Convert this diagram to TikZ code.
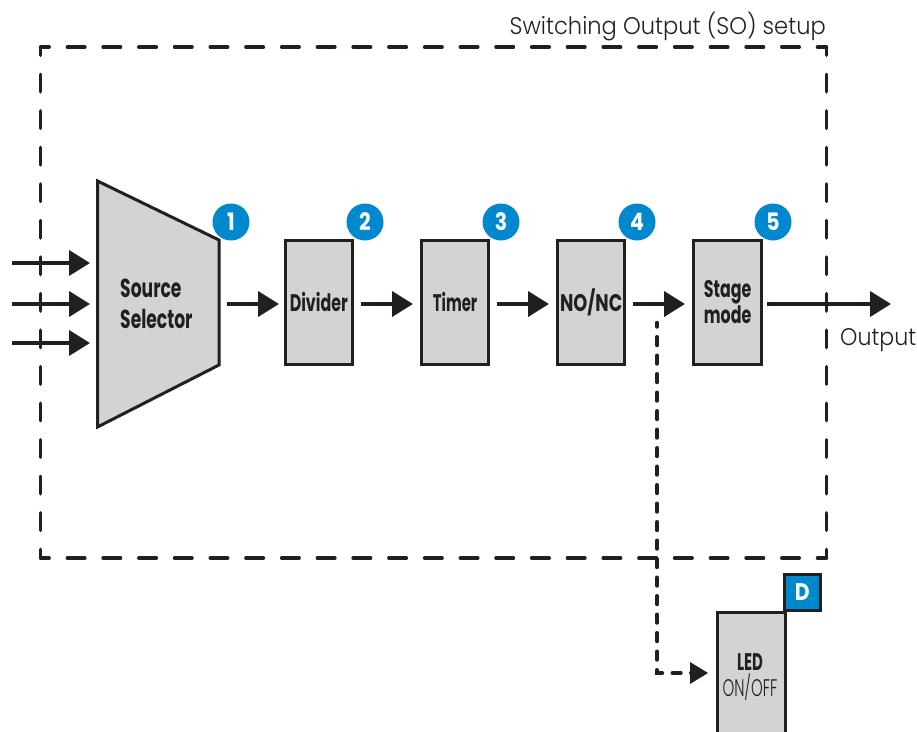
\documentclass[tikz,border=0pt]{standalone}
\usepackage{fontspec}
\setmainfont{Poppins}
\newfontfamily\lightfont{Poppins Light}
\usepackage{graphicx}
\usetikzlibrary{arrows.meta,calc}
\definecolor{ink}{HTML}{231F20}
\definecolor{boxgray}{HTML}{D2D4D2}
\definecolor{badgeblue}{HTML}{0088CE}
\newcommand{\cond}[2][0.66]{\scalebox{#1}[1]{\bfseries #2}}
\newcommand{\condr}[1]{\scalebox{0.62}[1]{\lightfont #1}}
\newcommand{\digit}[1]{\scalebox{0.85}[1]{#1}}
\tikzset{
  x=1pt,y=-1pt,
  block/.style={draw=ink,fill=boxgray,line width=3pt,minimum width=67.5pt,minimum height=124pt,inner sep=0pt,align=center,font=\fontsize{24}{26}\selectfont,text=ink},
  badge/.style={circle,fill=badgeblue,text=white,minimum size=37pt,inner sep=0pt,font=\bfseries\fontsize{24}{24}\selectfont},
  flow/.style={draw=ink,line width=4pt,-{Triangle[length=21pt,width=25pt]}},
  hdash/.style={draw=ink,line width=3.4pt,line cap=round,dash pattern=on 17.6pt off 18.12pt,dash phase=8.92pt},
  vdash/.style={draw=ink,line width=3.4pt,line cap=round,dash pattern=on 17.6pt off 18.94pt,dash phase=9.24pt},
  tap/.style={draw=ink,line width=3.5pt,line cap=round,dash pattern=on 8.7pt off 9.8pt,dash phase=4.25pt},
  plain/.style={text=ink,font=\lightfont\fontsize{24}{24}\selectfont,inner sep=0pt}
}
\begin{document}
\begin{tikzpicture}
\useasboundingbox (0,0) rectangle (917,731);
% dashed setup frame
\coordinate (fa) at (40.5,47);
\coordinate (fb) at (826.5,47);
\coordinate (fc) at (826.5,558);
\coordinate (fd) at (40.5,558);
\draw[hdash] (fa) -- (fb);
\draw[hdash] (fd) -- (fc);
\draw[vdash] (fa) -- (fd);
\draw[vdash] (fb) -- (fc);
\node[plain,anchor=base east] (title) at (826,34) {\scalebox{0.94}[1]{Switching Output (SO) setup}};
% source selector
\coordinate (s1) at (97.5,181);
\coordinate (s2) at (219,240);
\coordinate (s3) at (219,365);
\coordinate (s4) at (97.5,427);
\draw[draw=ink,fill=boxgray,line width=3pt,line join=miter] (s1) -- (s2) -- (s3) -- (s4) -- cycle;
\node[align=left,anchor=west,text=ink,inner sep=0pt,font=\fontsize{26}{31}\selectfont] (sel) at (120,303.5) {\cond{Source}\\\cond{Selector}};
% blocks
\node[block] (div) at (318.8,302.5) {\raisebox{1.5pt}{\cond{Divider}}};
\node[block] (tim) at (455.1,302.5) {\raisebox{1.5pt}{\cond[0.62]{Timer}}};
\node[block] (nonc) at (591.2,302.5) {\raisebox{1.5pt}{\cond[0.74]{NO/NC}}};
\node[block] (stage) at (727.6,302.5) {\cond{Stage}\\\cond{mode}};
% badges
\node[badge] (b1) at (231,222) {\digit{1}};
\node[badge] (b2) at (365,222) {\digit{2}};
\node[badge] (b3) at (501,222) {\digit{3}};
\node[badge] (b4) at (637,222) {\digit{4}};
\node[badge] (b5) at (773,222) {\digit{5}};
% input arrows
\coordinate (i1) at (12,263); \coordinate (e1) at (90,263);
\coordinate (i2) at (12,304); \coordinate (e2) at (90,304);
\coordinate (i3) at (12,343); \coordinate (e3) at (90,343);
\draw[flow] (i1) -- (e1);
\draw[flow] (i2) -- (e2);
\draw[flow] (i3) -- (e3);
% flow arrows
\coordinate (a0) at (227,304); \coordinate (a1) at (279,304);
\coordinate (a2) at (361,304); \coordinate (a3) at (413,304);
\coordinate (a4) at (497,304); \coordinate (a5) at (549,304);
\coordinate (a6) at (633,304); \coordinate (a7) at (685,304);
\coordinate (a8) at (767,304); \coordinate (a9) at (891,304);
\draw[flow] (a0) -- (a1);
\draw[flow] (a2) -- (a3);
\draw[flow] (a4) -- (a5);
\draw[flow] (a6) -- (a7);
\draw[flow] (a8) -- (a9);
\node[plain,anchor=base west] (out) at (840,345) {\scalebox{0.92}[1]{Output}};
% LED
\node[block,minimum height=140pt,anchor=north west] (led) at (716,611) {};
\node[text=ink,align=center,inner sep=0pt,font=\fontsize{24}{26}\selectfont] (ledt) at (750,677) {\cond[0.62]{LED}\\\condr{ON/OFF}};
\node[draw=ink,fill=badgeblue,line width=3pt,minimum size=36.5pt,inner sep=0pt,text=white,font=\bfseries\fontsize{24}{24}\selectfont,anchor=south west] (d) at (782.5,612) {\digit{D}};
% tap to LED
\coordinate (t0) at (657,322.5);
\coordinate (t1) at (657,673);
\coordinate (t2) at (700,673);
\coordinate (t3) at (708,673);
\draw[tap] (t0) -- (t1) -- (t2);
\path[fill=ink] (t3) -- ++(-18,-11) -- ++(0,22) -- cycle;
\end{tikzpicture}
\end{document}
